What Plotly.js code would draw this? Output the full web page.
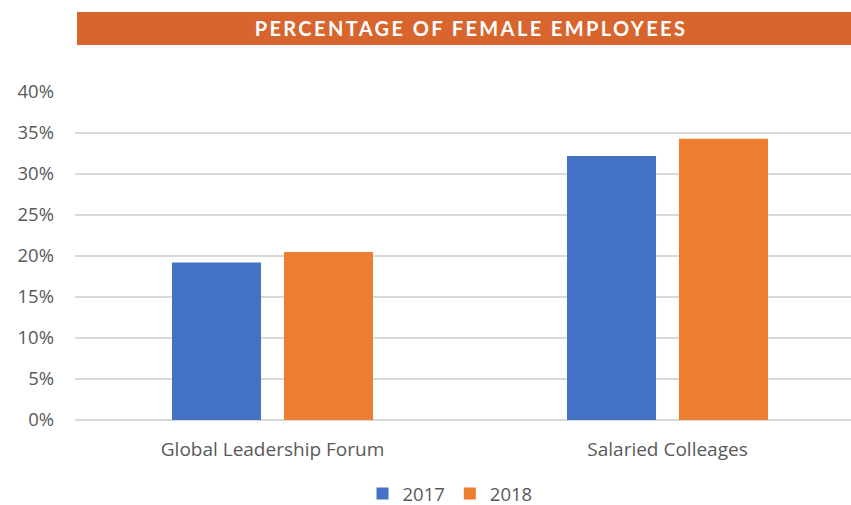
<!DOCTYPE html>
<html>
<head>
<meta charset="utf-8">
<script src="https://cdn.plot.ly/plotly-3.0.1.min.js"></script>
<style>
  html, body { margin: 0; padding: 0; background: #ffffff; }
  #chart { width: 851px; height: 505px; }
  .gtitle { letter-spacing: 2.4px; }
</style>
</head>
<body>
<div id="chart"></div>
<script>
const chartTitle = "PERCENTAGE OF FEMALE EMPLOYEES";
const categories = ["Global Leadership Forum", "Salaried Colleages"];
const seriesNames = ["2017", "2018"];
const values2017 = [0.192, 0.322];
const values2018 = [0.205, 0.343];
const yTickValues = [0, 0.05, 0.10, 0.15, 0.20, 0.25, 0.30, 0.35, 0.40];

const textColor = "#595959";
const fontFamily = "'Open Sans', 'Noto Sans', sans-serif";

const traces = [
  { type: "bar", name: seriesNames[0], x: categories, y: values2017,
    marker: { color: "#4472c4" }, hoverinfo: "y" },
  { type: "bar", name: seriesNames[1], x: categories, y: values2018,
    marker: { color: "#ed7d31" }, hoverinfo: "y" }
];

const layout = {
  width: 851, height: 505,
  paper_bgcolor: "#ffffff", plot_bgcolor: "#ffffff",
  margin: { l: 75, r: 0, t: 92, b: 85, pad: 0, autoexpand: false },
  font: { family: fontFamily, size: 18, color: textColor },
  title: {
    text: chartTitle,
    font: { family: "Lato, 'Open Sans', sans-serif", size: 20, color: "#ffffff", weight: 700 },
    x: 471 / 851, xanchor: "center", xref: "container",
    y: 1 - 28.5 / 505, yanchor: "middle", yref: "container",
    automargin: false
  },
  shapes: [{
    type: "rect", xref: "paper", yref: "paper", layer: "below",
    x0: 2 / 776, x1: 1, y0: (420 - 45) / 328, y1: (420 - 12) / 328,
    fillcolor: "#d9652e", line: { width: 0 }
  }],
  barmode: "group",
  bargap: 0.433,
  bargroupgap: 0.205,
  showlegend: true,
  legend: {
    orientation: "h", x: 450 / 851, xanchor: "center", xref: "container",
    y: 1 - 494 / 505, yanchor: "middle", yref: "container",
    font: { family: fontFamily, size: 18.5, color: textColor },
    itemwidth: 30, traceorder: "normal"
  },
  xaxis: {
    type: "category",
    range: [-0.5, -0.5 + 776 / 395],
    showgrid: false, zeroline: false, showline: false,
    ticks: "", ticklabelstandoff: 16, automargin: false,
    tickfont: { family: fontFamily, size: 19, color: textColor },
    fixedrange: true
  },
  yaxis: {
    range: [0, 0.4],
    tickvals: yTickValues,
    tickformat: ".0%",
    showgrid: true, gridcolor: "#d9d9d9", gridwidth: 1.5,
    zeroline: true, zerolinecolor: "#d9d9d9", zerolinewidth: 1.5,
    showline: false, ticks: "", ticklabelstandoff: 20, automargin: false,
    tickfont: { family: fontFamily, size: 18.5, color: textColor },
    fixedrange: true
  }
};

Plotly.newPlot("chart", traces, layout, { displayModeBar: false, staticPlot: true });
</script>
</body>
</html>
